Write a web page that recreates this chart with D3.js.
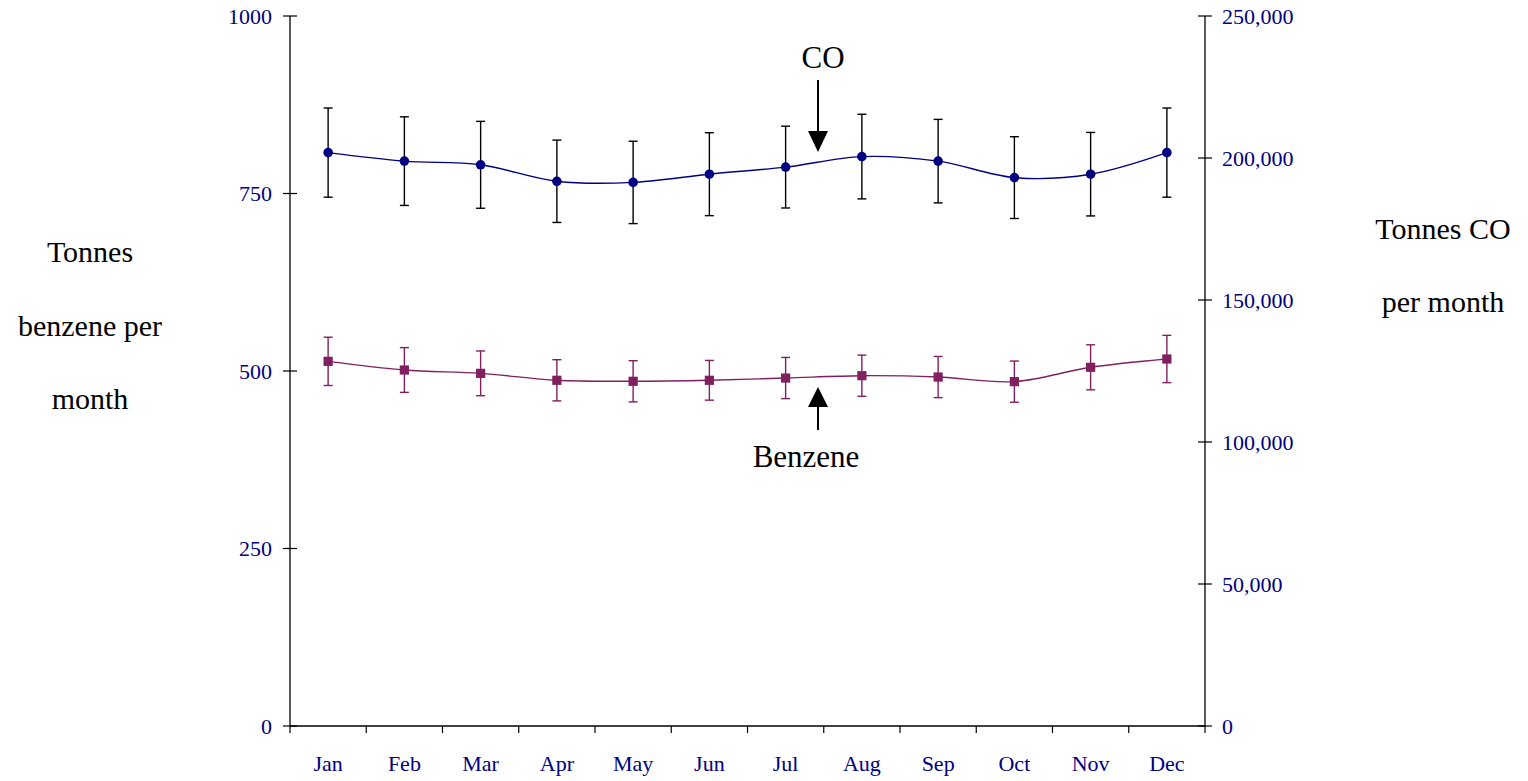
<!DOCTYPE html>
<html><head><meta charset="utf-8">
<script src="https://cdn.jsdelivr.net/npm/d3@7"></script>
<style>body{margin:0;background:#fff}svg{display:block}</style>
</head><body>
<svg id="c" width="1528" height="781"></svg>
<script>
const months = ["Jan","Feb","Mar","Apr","May","Jun","Jul","Aug","Sep","Oct","Nov","Dec"];
const coValues = [201900,198900,197600,191800,191400,194300,196800,200500,198900,193100,194300,201900];
const coErrors = [15700,15600,15300,14500,14500,14600,14400,14900,14700,14400,14700,15700];
const benzeneValues = [513.6,501.4,496.7,486.9,485.5,486.9,490.1,493.4,491.5,485.0,505.2,516.9];
const benzeneErrors = [34,31.5,31.5,29,29,28,29,29,29,29,31.7,33.3];
const leftTicks = [0,250,500,750,1000];
const rightTicks = [0,50000,100000,150000,200000,250000];

const svg = d3.select("#c");
const L=290, R=1205, T=16, B=726;
const font = "'Liberation Serif','Times New Roman',serif";
const navy = "#000080", purple = "#80205f";

const x = d3.scaleBand().domain(months).range([L,R]).padding(0);
const yL = d3.scaleLinear().domain([0,1000]).range([B,T]);
const yR = d3.scaleLinear().domain([0,250000]).range([B,T]);
const cx = m => x(m) + x.bandwidth()/2;

// axes
const gL = svg.append("g");
gL.append("line").attr("x1",L).attr("x2",L).attr("y1",T).attr("y2",B).attr("stroke","#000").attr("stroke-width",1.3);
leftTicks.forEach(t=>{
  gL.append("line").attr("x1",L-7).attr("x2",L+7).attr("y1",yL(t)).attr("y2",yL(t)).attr("stroke","#000").attr("stroke-width",1.2);
  gL.append("text").attr("x",272).attr("y",yL(t)).attr("dy","0.36em").attr("text-anchor","end")
    .attr("font-family",font).attr("font-size",22).attr("fill",navy).text(d3.format("")(t));
});
const gR = svg.append("g");
gR.append("line").attr("x1",R).attr("x2",R).attr("y1",T).attr("y2",B).attr("stroke","#000").attr("stroke-width",1.3);
rightTicks.forEach(t=>{
  gR.append("line").attr("x1",R-7).attr("x2",R+7).attr("y1",yR(t)).attr("y2",yR(t)).attr("stroke","#000").attr("stroke-width",1.2);
  gR.append("text").attr("x",1222).attr("y",yR(t)).attr("dy","0.36em").attr("text-anchor","start")
    .attr("font-family",font).attr("font-size",22).attr("fill",navy).text(d3.format(",")(t));
});
const gX = svg.append("g");
gX.append("line").attr("x1",L).attr("x2",R).attr("y1",B).attr("y2",B).attr("stroke","#000").attr("stroke-width",1.3);
months.forEach((m,i)=>{
  gX.append("line").attr("x1",x(m)).attr("x2",x(m)).attr("y1",B).attr("y2",B+7).attr("stroke","#000").attr("stroke-width",1.2);
  gX.append("text").attr("x",cx(m)).attr("y",771).attr("text-anchor","middle")
    .attr("font-family",font).attr("font-size",22).attr("fill",navy).text(m);
});
gX.append("line").attr("x1",R).attr("x2",R).attr("y1",B).attr("y2",B+7).attr("stroke","#000").attr("stroke-width",1.2);

// axis titles
const titleL = ["Tonnes","benzene per","month"];
titleL.forEach((s,i)=>svg.append("text").attr("x",90).attr("y",262+i*73.5).attr("text-anchor","middle")
  .attr("font-family",font).attr("font-size",30).attr("fill","#000").text(s));
const titleR = ["Tonnes CO","per month"];
titleR.forEach((s,i)=>svg.append("text").attr("x",1443).attr("y",239+i*73).attr("text-anchor","middle")
  .attr("font-family",font).attr("font-size",30).attr("fill","#000").text(s));

// series drawing
function series(vals, errs, y, color, errColor, marker){
  const g = svg.append("g");
  const pts = months.map((m,i)=>({m, v:vals[i], e:errs[i]}));
  // error bars
  pts.forEach(p=>{
    const xx = cx(p.m);
    g.append("line").attr("x1",xx).attr("x2",xx).attr("y1",y(p.v+p.e)).attr("y2",y(p.v-p.e)).attr("stroke",errColor).attr("stroke-width",1.4);
    [p.v+p.e,p.v-p.e].forEach(v=>g.append("line").attr("x1",xx-4.5).attr("x2",xx+4.5).attr("y1",y(v)).attr("y2",y(v)).attr("stroke",errColor).attr("stroke-width",1.4));
  });
  const line = d3.line().x(p=>cx(p.m)).y(p=>y(p.v)).curve(d3.curveCatmullRom.alpha(0.5));
  g.append("path").attr("d",line(pts)).attr("fill","none").attr("stroke",color).attr("stroke-width",1.4);
  pts.forEach(p=>{
    if(marker==="circle") g.append("circle").attr("cx",cx(p.m)).attr("cy",y(p.v)).attr("r",4.8).attr("fill",color);
    else g.append("rect").attr("x",cx(p.m)-4.6).attr("y",y(p.v)-4.6).attr("width",9.2).attr("height",9.2).attr("fill",color);
  });
}
series(benzeneValues, benzeneErrors, yL, purple, purple, "square");
series(coValues, coErrors, yR, navy, "#000", "circle");

// annotations
svg.append("text").attr("x",823).attr("y",68).attr("text-anchor","middle").attr("font-family",font).attr("font-size",31).attr("fill","#000").text("CO");
svg.append("line").attr("x1",818).attr("x2",818).attr("y1",80).attr("y2",135).attr("stroke","#000").attr("stroke-width",2);
svg.append("path").attr("d","M808,131 L828,131 L818,152 Z").attr("fill","#000");
svg.append("text").attr("x",806).attr("y",467).attr("text-anchor","middle").attr("font-family",font).attr("font-size",31).attr("fill","#000").text("Benzene");
svg.append("line").attr("x1",818).attr("x2",818).attr("y1",405).attr("y2",430).attr("stroke","#000").attr("stroke-width",2);
svg.append("path").attr("d","M808,407 L828,407 L818,387 Z").attr("fill","#000");
</script>
</body></html>
